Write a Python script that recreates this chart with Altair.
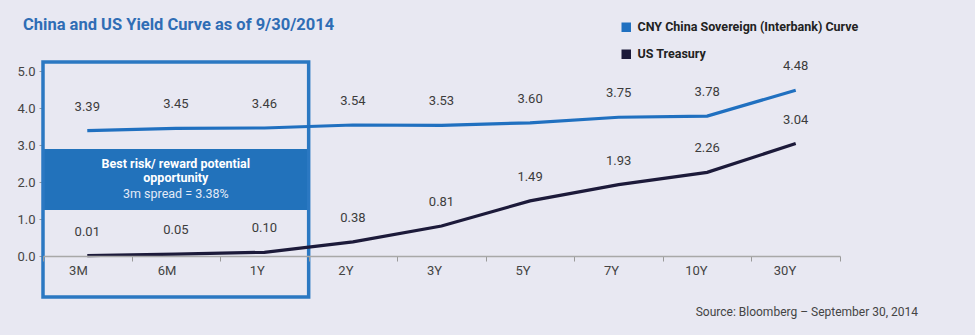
import altair as alt
import pandas as pd

tenors = ["3M", "6M", "1Y", "2Y", "3Y", "5Y", "7Y", "10Y", "30Y"]
cny = [3.39, 3.45, 3.46, 3.54, 3.53, 3.60, 3.75, 3.78, 4.48]
ust = [0.01, 0.05, 0.10, 0.38, 0.81, 1.49, 1.93, 2.26, 3.04]
series_names = ["CNY China Sovereign (Interbank) Curve", "US Treasury"]
series_colors = ["#2070c0", "#1c1a3a"]
y_ticks = [0, 1, 2, 3, 4, 5]

rows = []
for t, v in zip(tenors, cny):
    rows.append({"tenor": t, "series": series_names[0], "value": v})
for t, v in zip(tenors, ust):
    rows.append({"tenor": t, "series": series_names[1], "value": v})
df = pd.DataFrame(rows)

FONT = "Roboto"
BLUE = "#2272bb"

x_enc = alt.X(
    "tenor:N",
    sort=tenors,
    scale=alt.Scale(domain=tenors, paddingInner=0, paddingOuter=0),
    axis=alt.Axis(
        title=None, labelAngle=0, tickBand="extent", tickSize=5,
        tickColor="#9a9a9a", domainColor="#a8a8a8", domainWidth=1.5,
        labelColor="#444444", labelFontSize=13, labelPadding=9,
        labelFont=FONT, grid=False,
    ),
)
y_axis = alt.Axis(
    title=None, values=y_ticks, format=".1f", domain=False,
    tickSize=4, tickColor="#9a9a9a", labelColor="#444444",
    labelFontSize=13, labelPadding=4, labelFont=FONT, grid=False,
    labelOverlap=False, labelFlush=False,
)
y_scale = alt.Scale(domain=[0, 5], nice=False, zero=True)
y_enc = alt.Y("value:Q", scale=y_scale, axis=y_axis)
color_enc = alt.Color(
    "series:N",
    scale=alt.Scale(domain=series_names, range=series_colors),
    legend=alt.Legend(
        title=None, orient="none", legendX=577, legendY=-50,
        symbolType="square", symbolSize=16, symbolStrokeWidth=5.5,
        labelFontSize=12.5, labelFontWeight="bold", labelColor="#222222",
        labelFont=FONT, rowPadding=0, labelOffset=5, labelLimit=400,
    ),
)

base = alt.Chart(df)

box_src = alt.Chart(pd.DataFrame({"k": [0]}))
box_outline = box_src.mark_rect(
    fill="transparent", stroke="#2b78c2", strokeWidth=3.5
).encode(
    x=alt.XDatum("3M", type="nominal", bandPosition=0),
    x2=alt.X2Datum("1Y", bandPosition=1),
    y=alt.value(-9),
    y2=alt.value(226),
)
box_band = box_src.mark_rect(fill=BLUE).encode(
    x=alt.XDatum("3M", type="nominal", bandPosition=0),
    x2=alt.X2Datum("1Y", bandPosition=1),
    y=alt.value(78),
    y2=alt.value(139),
)
box_text1 = box_src.mark_text(
    text="Best risk/ reward potential", color="white", fontSize=12.5,
    fontWeight="bold", font=FONT, align="center", baseline="middle",
).encode(x=alt.XDatum("6M", type="nominal"), y=alt.value(92.5))
box_text2 = box_src.mark_text(
    text="opportunity", color="white", fontSize=12.5,
    fontWeight="bold", font=FONT, align="center", baseline="middle",
).encode(x=alt.XDatum("6M", type="nominal"), y=alt.value(107))
box_text3 = box_src.mark_text(
    text="3m spread = 3.38%", color="#e3eaf7", fontSize=12.5,
    font=FONT, align="center", baseline="middle",
).encode(x=alt.XDatum("6M", type="nominal"), y=alt.value(122.5))

lines = base.mark_line(strokeWidth=3.2).encode(
    x=x_enc, y=y_enc, color=color_enc, detail="series:N"
)
labels = base.mark_text(
    dy=-24, fontSize=13, color="#3c3c3c", font=FONT, baseline="middle"
).encode(
    x=alt.X("tenor:N", sort=tenors),
    y=alt.Y("value:Q", scale=y_scale, axis=y_axis),
    text=alt.Text("value:Q", format=".2f"),
)

title = box_src.mark_text(
    text="China and US Yield Curve as of 9/30/2014", color="#2f6db5",
    fontSize=16.5, fontWeight="bold", font=FONT, align="left",
    baseline="middle",
).encode(x=alt.value(-20), y=alt.value(-46))
source = box_src.mark_text(
    text="Source: Bloomberg \u2013 September 30, 2014", color="#444444",
    fontSize=12, font=FONT, align="right", baseline="middle",
).encode(x=alt.value(875), y=alt.value(241))

chart = alt.layer(
    box_band, box_outline, box_text1, box_text2, box_text3,
    lines, labels, title, source,
).properties(
    width=797, height=185,
    autosize=alt.AutoSizeParams(type="none"),
    padding={"left": 43, "top": 71, "right": 135, "bottom": 79},
    background="#e8e8f2",
).configure_view(stroke=None)

chart.save("out.html", embed_options={"renderer": "svg", "actions": False})
